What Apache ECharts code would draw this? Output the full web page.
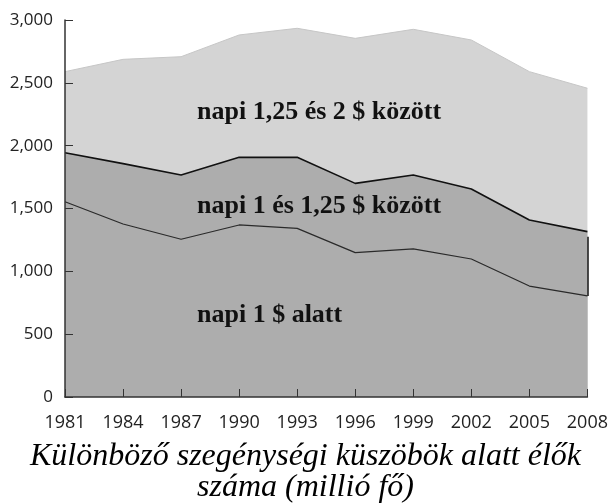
<!DOCTYPE html>
<html>
<head>
<meta charset="utf-8">
<script src="https://cdn.jsdelivr.net/npm/echarts@6/dist/echarts.min.js"></script>
<style>
  html, body { margin: 0; padding: 0; background: #fff; }
  #chart { width: 611px; height: 503px; }
</style>
</head>
<body>
<div id="chart"></div>
<script>
// years on the x axis
const years = ['1981', '1984', '1987', '1990', '1993', '1996', '1999', '2002', '2005', '2008'];
// people below each threshold (million), read as line levels
const under1 = [1554, 1377, 1255, 1369, 1342, 1149, 1178, 1098, 883, 804];
const under125 = [1944, 1857, 1767, 1907, 1907, 1700, 1767, 1655, 1408, 1316];
const under2 = [2589, 2687, 2708, 2881, 2934, 2854, 2926, 2841, 2589, 2457];
const yTicks = { min: 0, max: 3000, step: 500 };

const chart = echarts.init(document.getElementById('chart'));

const labelFont = {
  fontFamily: 'Liberation Serif',
  fontWeight: 'bold',
  fontSize: 26,
  fill: '#111'
};

chart.setOption({
  animation: false,
  grid: { left: 65, right: 19, top: 20, bottom: 106 },
  title: {
    text: 'Különböző szegénységi küszöbök alatt élők\nszáma (millió fő)',
    left: 'center',
    top: 436,
    textStyle: {
      fontFamily: 'Liberation Serif',
      fontStyle: 'italic',
      fontWeight: 'normal',
      fontSize: 32,
      lineHeight: 31,
      color: '#000'
    }
  },
  xAxis: {
    type: 'category',
    data: years,
    boundaryGap: false,
    z: 10,
    axisLine: { lineStyle: { color: '#333', width: 1.5 } },
    axisTick: { inside: true, length: 8, interval: 0, lineStyle: { color: '#333' } },
    axisLabel: {
      interval: 0, margin: 17, color: '#222',
      fontFamily: 'Open Sans', fontSize: 18
    }
  },
  yAxis: {
    type: 'value',
    min: yTicks.min,
    max: yTicks.max,
    interval: yTicks.step,
    z: 10,
    splitLine: { show: false },
    axisLine: { show: true, lineStyle: { color: '#333', width: 1.5 } },
    axisTick: { show: true, inside: true, length: 8, lineStyle: { color: '#333' } },
    axisLabel: {
      margin: 12, color: '#222',
      fontFamily: 'Open Sans', fontSize: 17,
      formatter: v => v.toLocaleString('en-US')
    }
  },
  series: [
    {
      name: 'napi 1,25 és 2 $ között',
      type: 'line',
      data: under2,
      symbol: 'none',
      lineStyle: { color: '#c6c6c6', width: 1 },
      areaStyle: { color: '#d4d4d4', opacity: 1, origin: 'start' },
      z: 1
    },
    {
      name: 'napi 1 és 1,25 $ között',
      type: 'line',
      data: under125,
      symbol: 'none',
      lineStyle: { color: '#111', width: 1.6 },
      areaStyle: { color: '#adadad', opacity: 1, origin: 'start' },
      z: 2
    },
    {
      name: 'napi 1 $ alatt',
      type: 'line',
      data: under1,
      symbol: 'none',
      lineStyle: { color: '#2a2a2a', width: 1.2 },
      areaStyle: { color: '#adadad', opacity: 1, origin: 'start' },
      z: 3,
      markLine: {
        silent: true,
        symbol: 'none',
        label: { show: false },
        lineStyle: { color: '#111', width: 1.5, type: 'solid' },
        data: [
          [{ coord: [years[years.length - 1], under1[under1.length - 1]] },
           { coord: [years[years.length - 1], under125[under125.length - 1] - 40] }]
        ]
      }
    }
  ],
  graphic: [
    { type: 'text', left: 197, top: 99, style: Object.assign({ text: 'napi 1,25 és 2 $ között' }, labelFont), z: 10 },
    { type: 'text', left: 197, top: 193, style: Object.assign({ text: 'napi 1 és 1,25 $ között' }, labelFont), z: 10 },
    { type: 'text', left: 197, top: 302, style: Object.assign({ text: 'napi 1 $ alatt' }, labelFont), z: 10 }
  ]
});
</script>
</body>
</html>
